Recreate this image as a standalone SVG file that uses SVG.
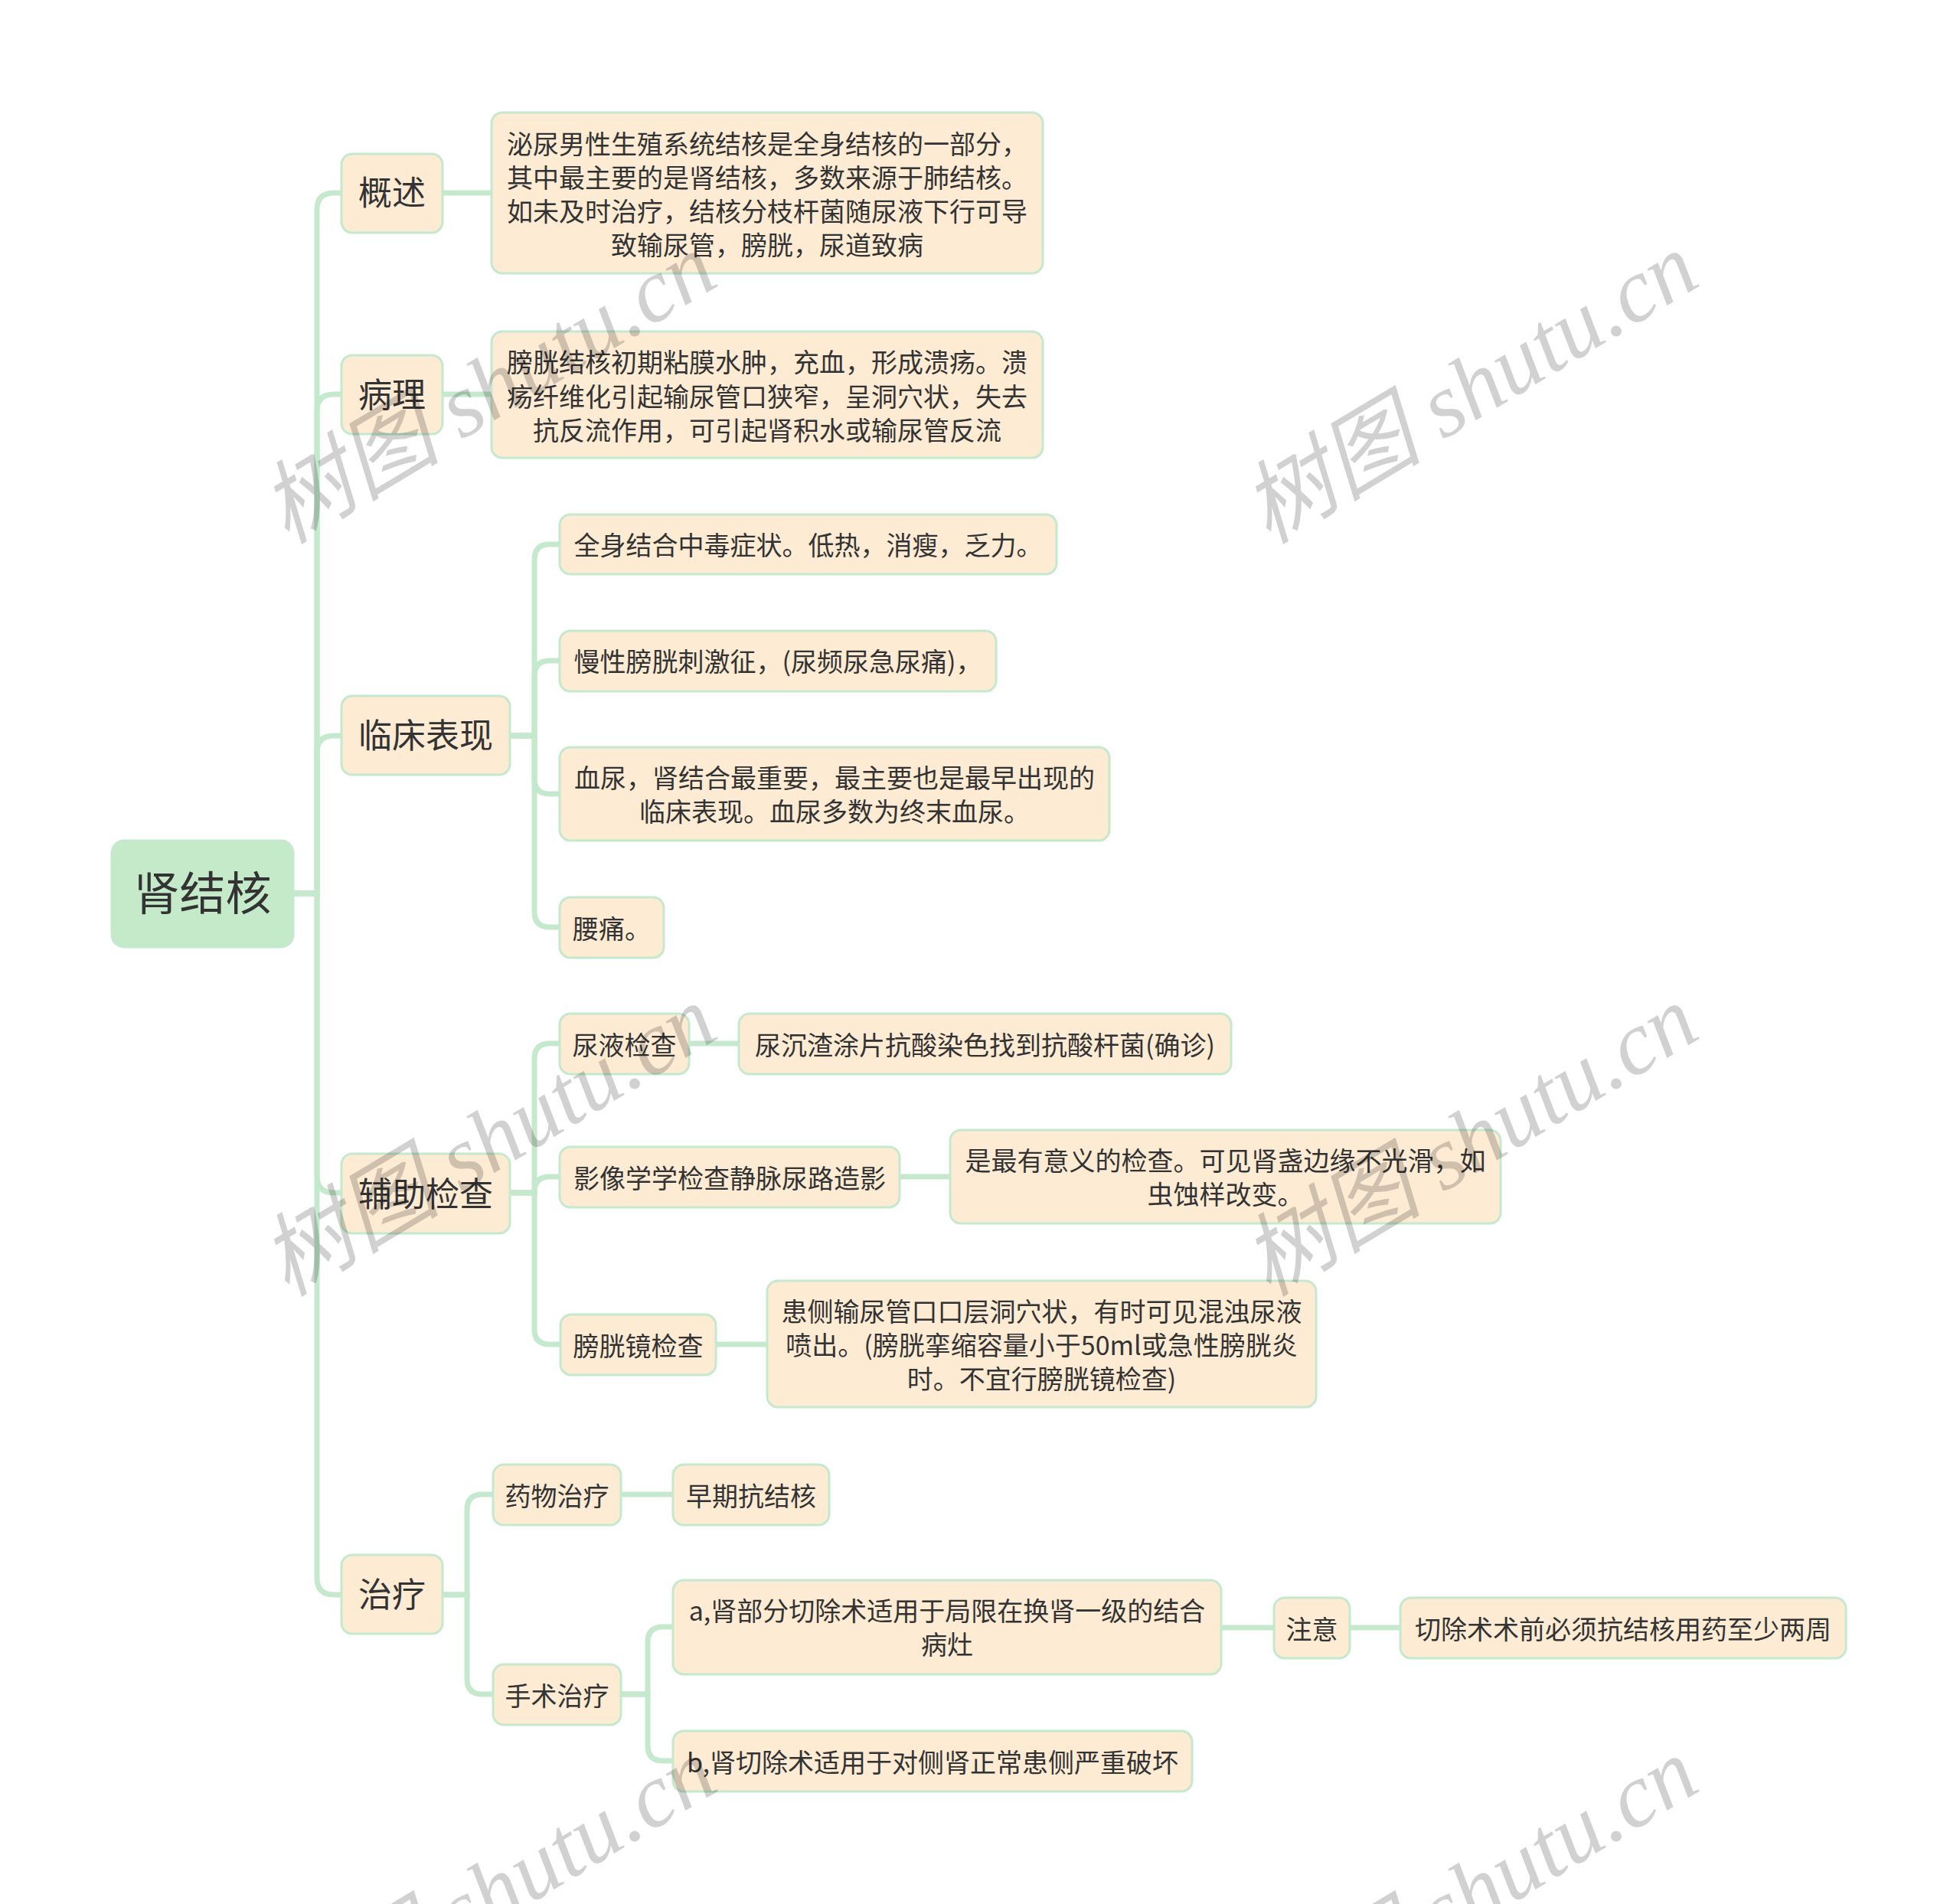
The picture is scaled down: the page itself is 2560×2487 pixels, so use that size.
<svg xmlns="http://www.w3.org/2000/svg" width="2560" height="2487" viewBox="0 0 2560 2487">
<style>
.n rect { fill:#fdebd4; stroke:#c5e9cc; stroke-width:3; }
.root rect { fill:#c4eaca; }
.c path { fill:none; stroke:#c5e9cc; stroke-width:7; }
text { font-family:"Noto Sans CJK SC","Noto Sans",sans-serif; fill:#333333; text-anchor:middle; }
.t0 { font-size:60px; }
.t1 { font-size:44px; }
.t2 { font-size:34px; }
.wm text { font-family:"Liberation Serif","Noto Sans CJK SC",serif; font-style:italic; font-size:118px; fill:#000000; fill-opacity:0.18; }
</style>
<rect width="2560" height="2487" fill="#ffffff"/>
<g id="connectors" class="c">
<path d="M383 1167 H414 V274 Q414 252 436 252 H446"/>
<path d="M383 1167 H414 V537 Q414 515 436 515 H446"/>
<path d="M383 1167 H414 V983 Q414 961 436 961 H446"/>
<path d="M383 1167 H414 V1536 Q414 1558 436 1558 H446"/>
<path d="M383 1167 H414 V2061 Q414 2083 436 2083 H446"/>
<path d="M578 252 H642"/>
<path d="M578 515 H642"/>
<path d="M666 961 H698 V731 Q698 711 718 711 H731"/>
<path d="M666 961 H698 V883 Q698 863 718 863 H731"/>
<path d="M666 961 H698 V1017 Q698 1037 718 1037 H731"/>
<path d="M666 961 H698 V1191 Q698 1211 718 1211 H731"/>
<path d="M666 1558 H698 V1383 Q698 1363 718 1363 H731"/>
<path d="M666 1558 H698 V1557 Q698 1537 718 1537 H731"/>
<path d="M666 1558 H698 V1736 Q698 1756 718 1756 H731"/>
<path d="M900 1363 H965"/>
<path d="M1175 1537 H1241"/>
<path d="M935 1756 H1002"/>
<path d="M578 2083 H610 V1972 Q610 1952 630 1952 H644"/>
<path d="M578 2083 H610 V2193 Q610 2213 630 2213 H644"/>
<path d="M811 1952 H879"/>
<path d="M811 2213 H846 V2145 Q846 2125 866 2125 H879"/>
<path d="M811 2213 H846 V2280 Q846 2300 866 2300 H879"/>
<path d="M1595 2126 H1664"/>
<path d="M1763 2126 H1829"/>
</g>
<g id="root" class="n root"><rect x="146" y="1098" width="237" height="139" rx="16"/><text class="t0" x="264.5" y="1189">肾结核</text></g>
<g id="gaishu" class="n"><rect x="446" y="201" width="132" height="103" rx="14"/><text class="t1" x="512" y="268">概述</text></g>
<g id="bingli" class="n"><rect x="446" y="464" width="132" height="103" rx="14"/><text class="t1" x="512" y="532">病理</text></g>
<g id="linchuang" class="n"><rect x="446" y="909" width="220" height="103" rx="14"/><text class="t1" x="556" y="977">临床表现</text></g>
<g id="fuzhu" class="n"><rect x="446" y="1507" width="220" height="104" rx="14"/><text class="t1" x="556" y="1576">辅助检查</text></g>
<g id="zhiliao" class="n"><rect x="446" y="2031" width="132" height="103" rx="14"/><text class="t1" x="512" y="2099">治疗</text></g>
<g id="gaishu-d" class="n"><rect x="642" y="147" width="720" height="210" rx="14"/>
<text class="t2" x="1002" y="201">泌尿男性生殖系统结核是全身结核的一部分，</text>
<text class="t2" x="1002" y="245">其中最主要的是肾结核，多数来源于肺结核。</text>
<text class="t2" x="1002" y="289">如未及时治疗，结核分枝杆菌随尿液下行可导</text>
<text class="t2" x="1002" y="333">致输尿管，膀胱，尿道致病</text></g>
<g id="bingli-d" class="n"><rect x="642" y="433" width="720" height="165" rx="14"/>
<text class="t2" x="1002" y="486">膀胱结核初期粘膜水肿，充血，形成溃疡。溃</text>
<text class="t2" x="1002" y="531">疡纤维化引起输尿管口狭窄，呈洞穴状，失去</text>
<text class="t2" x="1002" y="575">抗反流作用，可引起肾积水或输尿管反流</text></g>
<g id="lc1" class="n"><rect x="731" y="672" width="649" height="78" rx="14"/><text class="t2" x="1055.5" y="725">全身结合中毒症状。低热，消瘦，乏力。</text></g>
<g id="lc2" class="n"><rect x="731" y="824" width="570" height="79" rx="14"/><text class="t2" x="1016" y="877">慢性膀胱刺激征，(尿频尿急尿痛)，</text></g>
<g id="lc3" class="n"><rect x="731" y="976" width="718" height="122" rx="14"/>
<text class="t2" x="1090" y="1029">血尿，肾结合最重要，最主要也是最早出现的</text>
<text class="t2" x="1090" y="1073">临床表现。血尿多数为终末血尿。</text></g>
<g id="lc4" class="n"><rect x="731" y="1172" width="136" height="79" rx="14"/><text class="t2" x="799" y="1226">腰痛。</text></g>
<g id="fz1" class="n"><rect x="731" y="1324" width="169" height="79" rx="14"/><text class="t2" x="815.5" y="1378">尿液检查</text></g>
<g id="fz1-d" class="n"><rect x="965" y="1324" width="643" height="79" rx="14"/><text class="t2" x="1286.5" y="1378">尿沉渣涂片抗酸染色找到抗酸杆菌(确诊)</text></g>
<g id="fz2" class="n"><rect x="731" y="1498" width="444" height="79" rx="14"/><text class="t2" x="953" y="1552">影像学学检查静脉尿路造影</text></g>
<g id="fz2-d" class="n"><rect x="1241" y="1476" width="719" height="122" rx="14"/>
<text class="t2" x="1600.5" y="1529">是最有意义的检查。可见肾盏边缘不光滑，如</text>
<text class="t2" x="1600.5" y="1573">虫蚀样改变。</text></g>
<g id="fz3" class="n"><rect x="732" y="1717" width="203" height="79" rx="14"/><text class="t2" x="833.5" y="1771">膀胱镜检查</text></g>
<g id="fz3-d" class="n"><rect x="1002" y="1673" width="717" height="165" rx="14"/>
<text class="t2" x="1360.5" y="1726">患侧输尿管口口层洞穴状，有时可见混浊尿液</text>
<text class="t2" x="1360.5" y="1770">喷出。(膀胱挛缩容量小于50ml或急性膀胱炎</text>
<text class="t2" x="1360.5" y="1814">时。不宜行膀胱镜检查)</text></g>
<g id="zl1" class="n"><rect x="644" y="1913" width="167" height="79" rx="14"/><text class="t2" x="727.5" y="1967">药物治疗</text></g>
<g id="zl1-d" class="n"><rect x="879" y="1913" width="204" height="79" rx="14"/><text class="t2" x="981" y="1967">早期抗结核</text></g>
<g id="zl2" class="n"><rect x="644" y="2174" width="167" height="79" rx="14"/><text class="t2" x="727.5" y="2228">手术治疗</text></g>
<g id="zl2a" class="n"><rect x="879" y="2064" width="716" height="123" rx="14"/>
<text class="t2" x="1237" y="2117">a,肾部分切除术适用于局限在换肾一级的结合</text>
<text class="t2" x="1237" y="2161">病灶</text></g>
<g id="zl2a-note" class="n"><rect x="1664" y="2087" width="99" height="79" rx="14"/><text class="t2" x="1713.5" y="2141">注意</text></g>
<g id="zl2a-note-d" class="n"><rect x="1829" y="2087" width="582" height="79" rx="14"/><text class="t2" x="2120" y="2141">切除术术前必须抗结核用药至少两周</text></g>
<g id="zl2b" class="n"><rect x="879" y="2261" width="678" height="79" rx="14"/><text class="t2" x="1218" y="2315">b,肾切除术适用于对侧肾正常患侧严重破坏</text></g>
<g id="watermarks" class="wm">
<text transform="translate(638,507) rotate(-31)" x="0" y="40">树图 shutu.cn</text>
<text transform="translate(1920,507) rotate(-31)" x="0" y="40">树图 shutu.cn</text>
<text transform="translate(638,1490) rotate(-31)" x="0" y="40">树图 shutu.cn</text>
<text transform="translate(1920,1490) rotate(-31)" x="0" y="40">树图 shutu.cn</text>
<text transform="translate(638,2473) rotate(-31)" x="0" y="40">树图 shutu.cn</text>
<text transform="translate(1920,2473) rotate(-31)" x="0" y="40">树图 shutu.cn</text>
</g>
</svg>
